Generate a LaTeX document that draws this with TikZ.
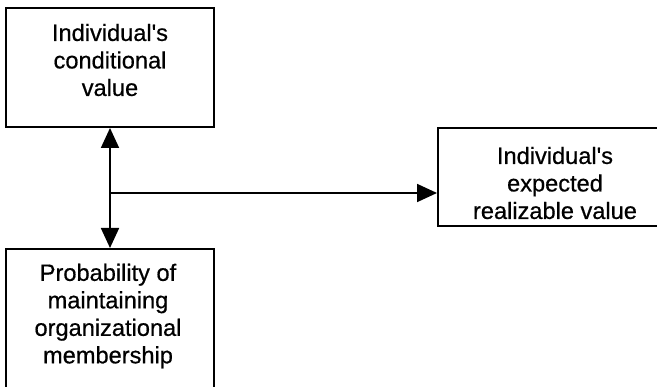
\documentclass[tikz,border=0pt]{standalone}
\usepackage{fontspec}
\setmainfont{Liberation Sans}
\newfontface\lblfont{Liberation Sans}[FakeBold=0.6]
\usetikzlibrary{arrows.meta}
\begin{document}
\begin{tikzpicture}[x=1pt,y=-1pt,
  boxnode/.style={draw=black,line width=2pt,rectangle,inner sep=0pt},
  txt/.style={align=center,inner sep=0pt,font=\lblfont\fontsize{23.6}{27.5}\selectfont},
  link/.style={line width=1.8pt,-{Triangle[length=20pt,width=18pt]}},
  dlink/.style={line width=1.8pt,{Triangle[length=20pt,width=18pt]}-{Triangle[length=20pt,width=18pt]}}]
\useasboundingbox (0,0) rectangle (657,387);
% boxes
\node[boxnode,minimum width=208pt,minimum height=119pt] (cond) at (110,67.5) {};
\node[boxnode,minimum width=208pt,minimum height=151pt] (prob) at (110,324.5) {};
\node[boxnode,minimum width=232pt,minimum height=98pt] (real) at (554,177) {};
% labels
\node[txt] (condt) at (110,60) {Individual\textquotesingle s\\conditional\\value};
\node[txt] (probt) at (108,316) {Probability of\\maintaining\\organizational\\membership};
\node[txt] (realt) at (555,183) {Individual\textquotesingle s\\expected\\realizable value};
% connectors
\draw[dlink] (cond.south) -- (prob.north);
\coordinate (mid) at (110,193);
\draw[link] (mid) -- (real.west |- mid);
\end{tikzpicture}
\end{document}
